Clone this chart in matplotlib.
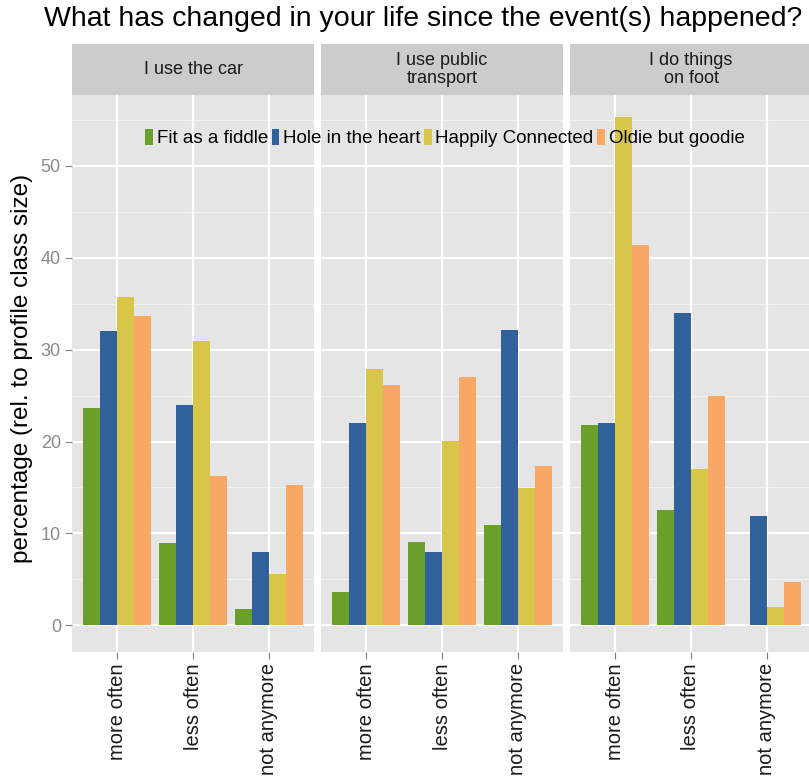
import matplotlib
matplotlib.use("Agg")
import matplotlib.pyplot as plt
from matplotlib.patches import Patch
import numpy as np

plt.rcParams["font.family"] = ["Liberation Sans", "DejaVu Sans"]

panels = ["I use the car", "I use public\ntransport", "I do things\non foot"]
categories = ["more often", "less often", "not anymore"]
groups = ["Fit as a fiddle", "Hole in the heart", "Happily Connected", "Oldie but goodie"]
colors = ["#6a9f2a", "#31619a", "#d8c64a", "#f6a864"]

# values[panel][group] -> one value per category
car = [[23.7, 9.0, 1.8], [32.0, 24.0, 8.0], [35.7, 30.9, 5.6], [33.7, 16.3, 15.3]]
public = [[3.6, 9.1, 10.9], [22.0, 8.0, 32.1], [27.9, 20.1, 14.9], [26.1, 27.0, 17.3]]
foot = [[21.8, 12.6, 0.0], [22.0, 34.0, 11.9], [55.3, 17.0, 2.0], [41.4, 25.0, 4.7]]
values = [car, public, foot]

W, H = 809, 776
fig = plt.figure(figsize=(W / 100, H / 100), dpi=100)

panel_left = [72, 321, 570]
panel_w = 242
top, bottom = 95, 652
strip_top = 44

x = np.arange(1, 4)
bw = 0.9 / 4

for p in range(3):
    ax = fig.add_axes([panel_left[p] / W, 1 - bottom / H, panel_w / W, (bottom - top) / H])
    ax.set_facecolor("#e5e5e5")
    for s in ax.spines.values():
        s.set_visible(False)
    ax.set_xlim(0.4, 3.6)
    ax.set_ylim(-2.9, 57.7)
    for yv in range(5, 60, 10):
        ax.axhline(yv, color="#f2f2f2", lw=0.8, zorder=0)
    for yv in range(0, 60, 10):
        ax.axhline(yv, color="white", lw=1.6, zorder=0)
    for xv in x:
        ax.axvline(xv, color="white", lw=1.6, zorder=0)
    for g in range(4):
        ax.bar(x - 0.45 + bw * (g + 0.5), values[p][g], width=bw, color=colors[g], zorder=2)
    ax.set_xticks(x)
    ax.set_xticklabels(categories, rotation=90, fontsize=14.5, color="#1a1a1a")
    ax.set_yticks(range(0, 60, 10))
    ax.tick_params(axis="x", length=5, color="#7f7f7f", pad=3)
    if p == 0:
        ax.tick_params(axis="y", length=5, color="#7f7f7f", labelcolor="#8a8a8a", labelsize=13, pad=3)
    else:
        ax.tick_params(axis="y", length=0, labelleft=False)

    sx = fig.add_axes([panel_left[p] / W, 1 - top / H, panel_w / W, (top - strip_top) / H])
    sx.set_facecolor("#cccccc")
    sx.set_xticks([])
    sx.set_yticks([])
    for s in sx.spines.values():
        s.set_visible(False)
    sx.text(0.5, 0.5, panels[p], ha="center", va="center", fontsize=13, color="#1a1a1a",
            transform=sx.transAxes, linespacing=1.1)

fig.text(423.5 / W, 1 - 19 / H, "What has changed in your life since the event(s) happened?",
         ha="center", va="center", fontsize=20.5)
fig.text(22 / W, 1 - 368 / H, "percentage (rel. to profile class size)",
         ha="center", va="center", rotation=90, fontsize=17.5)

handles = [Patch(facecolor=c, edgecolor="none") for c in colors]
fig.legend(handles, groups, loc="center", bbox_to_anchor=(445 / W, 1 - 138 / H), ncol=4,
           frameon=False, fontsize=13.5, handlelength=0.4, handleheight=1.0,
           handletextpad=0.2, columnspacing=0.2, borderaxespad=0)

fig.savefig("out.png", dpi=100)
